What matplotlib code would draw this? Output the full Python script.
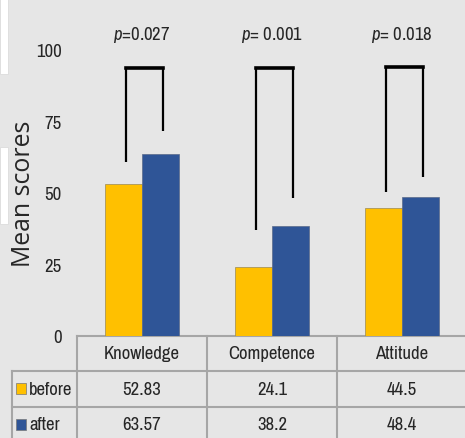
import matplotlib
matplotlib.use("Agg")
import matplotlib.pyplot as plt
from matplotlib import font_manager
from matplotlib.transforms import blended_transform_factory
import numpy as np

# data
categories = ["Knowledge", "Competence", "Attitude"]
before = [52.83, 24.1, 44.5]
after = [63.57, 38.2, 48.4]
p_labels = ["$p$=0.027", "$p$= 0.001", "$p$= 0.018"]
# bracket legs (left bottom, right bottom) and top height, in score units
bracket_left = [60.8, 37.0, 50.3]
bracket_right = [71.7, 48.0, 55.6]
bracket_top = [93.4, 93.4, 94.0]
yticks = [0, 25, 50, 75, 100]

names = {f.name for f in font_manager.fontManager.ttflist}
narrow = next((n for n in ["Archivo Narrow", "Liberation Sans Narrow", "Roboto Condensed",
                           "Barlow Condensed", "Asap Condensed"] if n in names), "DejaVu Sans")
label_font = "Open Sans" if "Open Sans" in names else "DejaVu Sans"
fs = 13.5
plt.rcParams["mathtext.fontset"] = "custom"
plt.rcParams["mathtext.it"] = narrow + ":italic"
plt.rcParams["mathtext.rm"] = narrow

yellow = "#FFC000"
blue = "#2F5597"
bg = "#e6e6e6"
grid_c = "#a6a6a6"
txt_c = "#262626"

W, H = 465, 439
fig = plt.figure(figsize=(W / 100, H / 100), dpi=100)
fig.patch.set_facecolor(bg)

# white strips at the left edge of the screenshot
fig.patches.append(plt.Rectangle((0, 1 - 75 / H), 8 / W, 75 / H, transform=fig.transFigure,
                                 facecolor="white", edgecolor="#d8d8d8", lw=0.5))
fig.patches.append(plt.Rectangle((0, 1 - 225 / H), 8 / W, 77 / H, transform=fig.transFigure,
                                 facecolor="white", edgecolor="#d8d8d8", lw=0.5))

# axes: x from px 77 to 467, y from px 0 to 336.5
ax = fig.add_axes([77 / W, (H - 336.5) / H, 390 / W, 336.5 / H])
ax.set_facecolor(bg)
ax.set_xlim(-0.5, 2.5)
ax.set_ylim(0, 117.7)
for s in ax.spines.values():
    s.set_visible(False)

x = np.arange(len(categories))
w = 0.287
ax.bar(x - w / 2, before, w, color=yellow, edgecolor="#9a8a55", linewidth=0.5, zorder=3)
ax.bar(x + w / 2, after, w, color=blue, edgecolor="#5a6a8a", linewidth=0.5, zorder=3)

ax.set_xticks([])
ax.set_yticks(yticks)
ax.tick_params(axis="y", length=0, pad=11)
for t in ax.get_yticklabels():
    t.set_fontfamily(narrow)
    t.set_fontsize(fs)
    t.set_color(txt_c)

# y label: size it so it spans ~147 px like the reference
ylab = ax.set_ylabel("Mean scores", fontfamily=label_font, fontsize=16, color=txt_c)
fig.canvas.draw()
h = ylab.get_window_extent().height
ylab.set_fontsize(16 * 147 / h)
ax.yaxis.set_label_coords(-0.105, 0.425)

# significance brackets
for i in range(len(categories)):
    xl = x[i] - 0.12
    xr = x[i] + 0.16
    ax.plot([xl, xl], [bracket_left[i], bracket_top[i]], color="black", lw=1.6, solid_capstyle="butt", zorder=4)
    ax.plot([xr, xr], [bracket_right[i], bracket_top[i]], color="black", lw=1.6, solid_capstyle="butt", zorder=4)
    ax.plot([xl, xr], [bracket_top[i], bracket_top[i]], color="black", lw=2.6, solid_capstyle="projecting", zorder=4)
    ax.text(x[i], 105.5, p_labels[i], ha="center", va="center",
            fontfamily=narrow, fontsize=fs, color=txt_c)

# data table below the axis
tr = blended_transform_factory(ax.transData, ax.transAxes)
rh = 35.5 / 336.5  # row height in axes fraction
left_col = -0.5 - 65 / 130
edges = [-0.5, 0.5, 1.5, 2.5]
lk = dict(color=grid_c, lw=1.5, transform=tr, clip_on=False)
ax.plot([-0.5, 2.5], [0, 0], **lk)
ax.plot([left_col, 2.5], [-rh, -rh], **lk)
ax.plot([left_col, 2.5], [-2 * rh, -2 * rh], **lk)
for e in edges:
    ax.plot([e, e], [0, -3 * rh], **lk)
ax.plot([left_col, left_col], [-rh, -3 * rh], **lk)

for i, c in enumerate(categories):
    ax.text(x[i], -0.5 * rh, c, ha="center", va="center", transform=tr,
            fontfamily=narrow, fontsize=fs, color=txt_c)
    ax.text(x[i], -1.5 * rh, f"{before[i]}", ha="center", va="center", transform=tr,
            fontfamily=narrow, fontsize=fs, color=txt_c)
    ax.text(x[i], -2.5 * rh, f"{after[i]}", ha="center", va="center", transform=tr,
            fontfamily=narrow, fontsize=fs, color=txt_c)

for j, (name, col) in enumerate([("before", yellow), ("after", blue)]):
    yc = -(1.5 + j) * rh
    ax.add_patch(plt.Rectangle((left_col + 0.03, yc - 0.017), 0.078, 0.034, transform=tr,
                               facecolor=col, edgecolor="#777777", lw=0.5, clip_on=False))
    ax.text(left_col + 0.13, yc, name, ha="left", va="center", transform=tr,
            fontfamily=narrow, fontsize=fs, color=txt_c)

fig.savefig("out.png", dpi=100, facecolor=bg)
